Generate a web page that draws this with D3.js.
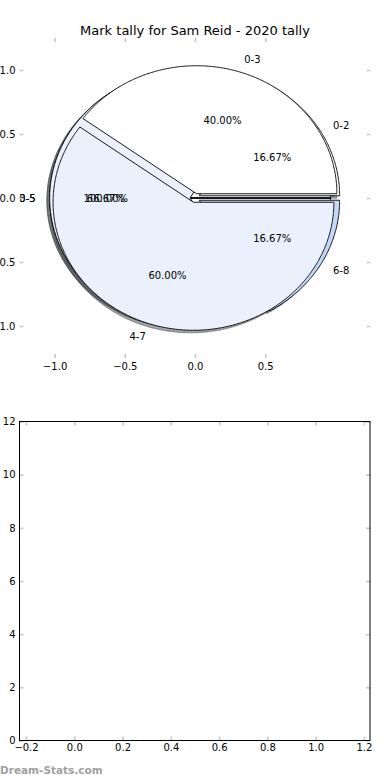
<!DOCTYPE html>
<html>
<head>
<meta charset="utf-8">
<script src="https://cdn.jsdelivr.net/npm/d3@7"></script>
<style>
  body { margin: 0; background: #fff; }
  text { font-family: "DejaVu Sans", sans-serif; }
</style>
</head>
<body>
<div id="chart"></div>
<script>
// three pies stacked on one axes, bottom one first
var groupA = ["0-5"];
var valuesA = [6];
var groupB = ["0-2", "3-5", "6-8"];
var valuesB = [1, 4, 1];
var groupC = ["0-3", "4-7"];
var valuesC = [2, 3];
var sliceColors = ["#ffffff", "#eaf1fd", "#c3d7f8"];
var explode = 0.035;

// tick values
var pieXTicks = [-1.0, -0.5, 0.0, 0.5];
var pieYTicks = [-1.0, -0.5, 0.0, 0.5, 1.0];
var emptyXTicks = [-0.2, 0.0, 0.2, 0.4, 0.6, 0.8, 1.0, 1.2];
var emptyYTicks = [0, 2, 4, 6, 8, 10, 12];

var tickGray = "#c8c8c8";

var svg = d3.select("#chart").append("svg")
    .attr("width", 390)
    .attr("height", 780);

// title
svg.append("text")
    .attr("x", 195)
    .attr("y", 34.5)
    .attr("text-anchor", "middle")
    .attr("font-size", 13)
    .text("Mark tally for Sam Reid - 2020 tally");

// ---- pie axes (not equal aspect, so circles come out as ellipses)
var px = d3.scaleLinear().domain([-1.25, 1.25]).range([19.5, 370.5]);
var py = d3.scaleLinear().domain([-1.25, 1.25]).range([358, 38]);

var pieLayout = d3.pie().sort(null).startAngle(0).endAngle(2 * Math.PI);

// angles are read counter-clockwise from +x, like matplotlib
function wedgePoints(s, e, cx, cy) {
  var n = Math.max(2, Math.ceil((e - s) / 0.01));
  var pts = d3.range(n + 1).map(function(i) {
    var t = s + (e - s) * i / n;
    return [cx + Math.cos(t), cy + Math.sin(t)];
  });
  pts.push([cx, cy]);
  if (e - s > 2 * Math.PI - 1e-6) {      // full wedge keeps its radius line
    pts.push(pts[0]);
    pts.push([cx, cy]);
  }
  return pts;
}

var wedges = [];
[[groupA, valuesA], [groupB, valuesB], [groupC, valuesC]].forEach(function(g) {
  var total = d3.sum(g[1]);
  pieLayout(g[1]).forEach(function(a, i) {
    var mid = (a.startAngle + a.endAngle) / 2;
    var cx = explode * Math.cos(mid), cy = explode * Math.sin(mid);
    wedges.push({
      label: g[0][i],
      pct: a.value / total * 100,
      color: sliceColors[i],
      mid: mid, cx: cx, cy: cy,
      pts: wedgePoints(a.startAngle, a.endAngle, cx, cy)
    });
  });
});

var wedgeLine = d3.line()
    .x(function(d) { return px(d[0]); })
    .y(function(d) { return py(d[1]); });
var shadowLine = d3.line()
    .x(function(d) { return px(d[0] - 0.02); })
    .y(function(d) { return py(d[1] - 0.02); });

function shade(c) {
  var r = d3.rgb(c);
  return d3.rgb(r.r * 0.3, r.g * 0.3, r.b * 0.3).toString();
}

// shadows sit below every wedge
svg.append("g").selectAll("path")
  .data(wedges)
  .enter().append("path")
    .attr("d", function(d) { return shadowLine(d.pts) + "Z"; })
    .attr("fill", function(d) { return shade(d.color); })
    .attr("fill-opacity", 0.5)
    .attr("stroke", function(d) { return shade(d.color); })
    .attr("stroke-opacity", 0.5)
    .attr("stroke-width", 1);

svg.append("g").selectAll("path")
  .data(wedges)
  .enter().append("path")
    .attr("d", function(d) { return wedgeLine(d.pts) + "Z"; })
    .attr("fill", function(d) { return d.color; })
    .attr("stroke", "#000")
    .attr("stroke-width", 0.9);

// labels
var labelG = svg.append("g").attr("font-size", 10);
wedges.forEach(function(d) {
  var lx = d.cx + 1.1 * Math.cos(d.mid), ly = d.cy + 1.1 * Math.sin(d.mid);
  labelG.append("text")
      .attr("x", px(lx))
      .attr("y", py(ly))
      .attr("dy", "0.36em")
      .attr("text-anchor", lx > 0 ? "start" : "end")
      .text(d.label);
  var tx = d.cx + 0.6 * Math.cos(d.mid), ty = d.cy + 0.6 * Math.sin(d.mid);
  labelG.append("text")
      .attr("x", px(tx))
      .attr("y", py(ty))
      .attr("dy", "0.36em")
      .attr("text-anchor", "middle")
      .text(d3.format(".2f")(d.pct) + "%");
});

function styleAxis(g) {
  g.select(".domain").remove();
  g.selectAll(".tick line").attr("stroke", tickGray).attr("stroke-width", 1.6);
  g.attr("font-family", "DejaVu Sans").attr("font-size", 10);
  g.selectAll(".tick text").attr("fill", "#000");
}

svg.append("g")
    .attr("transform", "translate(0,358)")
    .call(d3.axisBottom(px).tickValues(pieXTicks).tickSize(-4).tickPadding(5)
      .tickFormat(d3.format(".1f")))
    .call(styleAxis);
svg.append("g")
    .attr("transform", "translate(0,38)")
    .call(d3.axisTop(px).tickValues(pieXTicks).tickSize(-4).tickFormat(""))
    .call(styleAxis);
svg.append("g")
    .attr("transform", "translate(19.5,0)")
    .call(d3.axisLeft(py).tickValues(pieYTicks).tickSize(-4).tickPadding(4)
      .tickFormat(d3.format(".1f")))
    .call(styleAxis);
svg.append("g")
    .attr("transform", "translate(370.5,0)")
    .call(d3.axisRight(py).tickValues(pieYTicks).tickSize(-4).tickFormat(""))
    .call(styleAxis);

// ---- empty second axes
var bx = d3.scaleLinear().domain([-0.227, 1.225]).range([19.5, 370]);
var by = d3.scaleLinear().domain([0, 12]).range([740.5, 421.5]);

svg.append("g")
    .attr("transform", "translate(0,740.5)")
    .call(d3.axisBottom(bx).tickValues(emptyXTicks).tickSize(-4).tickPadding(3)
      .tickFormat(d3.format(".1f")))
    .call(styleAxis);
svg.append("g")
    .attr("transform", "translate(0,421.5)")
    .call(d3.axisTop(bx).tickValues(emptyXTicks).tickSize(-4).tickFormat(""))
    .call(styleAxis);
svg.append("g")
    .attr("transform", "translate(19.5,0)")
    .call(d3.axisLeft(by).tickValues(emptyYTicks).tickSize(-4).tickPadding(4))
    .call(styleAxis);
svg.append("g")
    .attr("transform", "translate(370,0)")
    .call(d3.axisRight(by).tickValues(emptyYTicks).tickSize(-4).tickFormat(""))
    .call(styleAxis);

svg.append("rect")
    .attr("x", bx.range()[0])
    .attr("y", by.range()[1])
    .attr("width", bx.range()[1] - bx.range()[0])
    .attr("height", by.range()[0] - by.range()[1])
    .attr("fill", "none")
    .attr("stroke", "#000")
    .attr("stroke-width", 1);

// watermark
svg.append("text")
    .attr("x", 0)
    .attr("y", 774)
    .attr("font-size", 10.5)
    .attr("font-weight", "bold")
    .attr("fill", "#a0a0a0")
    .text("Dream-Stats.com");
</script>
</body>
</html>
